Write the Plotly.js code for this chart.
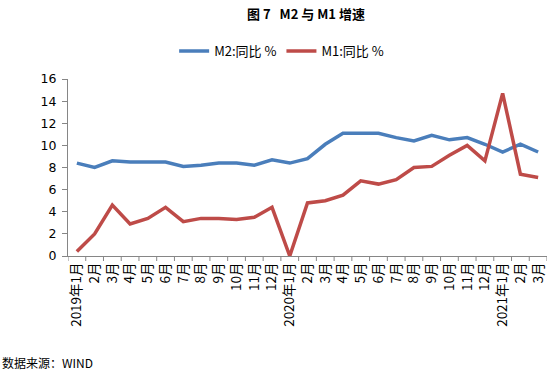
<!DOCTYPE html>
<html><head><meta charset="utf-8">
<script src="https://cdn.plot.ly/plotly-3.0.1.min.js"></script>
<style>body{margin:0;background:#fff}#c{width:549px;height:372px}</style>
</head><body><div id="c"></div>
<script>
const categories = ["2019年1月","2月","3月","4月","5月","6月","7月","8月","9月","10月","11月","12月",
  "2020年1月","2月","3月","4月","5月","6月","7月","8月","9月","10月","11月","12月",
  "2021年1月","2月","3月"];
const catKeys = categories.map((c,i)=>i);
const m2 = [8.4,8.0,8.6,8.5,8.5,8.5,8.1,8.2,8.4,8.4,8.2,8.7,8.4,8.8,10.1,11.1,11.1,11.1,10.7,10.4,10.9,10.5,10.7,10.1,9.4,10.1,9.4];
const m1 = [0.4,2.0,4.6,2.9,3.4,4.4,3.1,3.4,3.4,3.3,3.5,4.4,0.0,4.8,5.0,5.5,6.8,6.5,6.9,8.0,8.1,9.1,10.0,8.6,14.7,7.4,7.1];
const yTicks = [0,2,4,6,8,10,12,14,16];

const font = "DejaVu Sans, Noto Sans CJK SC, sans-serif";
const cjk = "Noto Sans CJK SC, sans-serif";
const traces = [
  {x: catKeys, y: m2, name: "M2:同比 %", mode: "lines", line: {color: "#4a7ebb", width: 3.5}},
  {x: catKeys, y: m1, name: "M1:同比 %", mode: "lines", line: {color: "#be4b48", width: 3.5}}
];
const layout = {
  width: 549, height: 372,
  margin: {l: 68, r: 2, t: 79, b: 116},
  paper_bgcolor: "#fff", plot_bgcolor: "#fff",
  showlegend: true,
  title: {text: "图 7   M2 与 M1 增速", font: {family: cjk, size: 13, color: "#000", weight: "bold"},
    x: 306/549, xanchor: "center", y: 1 - 14/372, yanchor: "middle", xref: "container", yref: "container"},
  legend: {orientation: "h", x: 0.513, xanchor: "center", y: 1 - 51/372, yanchor: "middle",
    xref: "container", yref: "container", font: {family: cjk, size: 13, color: "#000"},
    itemwidth: 30, tracegroupgap: 0},
  xaxis: {type: "linear", range: [-0.5, categories.length - 0.5],
    tickmode: "array", tickvals: catKeys, ticktext: categories, tickangle: -90,
    tickfont: {family: cjk, size: 13.5, color: "#000"},
    showgrid: false, zeroline: false, showline: true, linecolor: "#868686", linewidth: 1,
    ticks: "", fixedrange: true},
  yaxis: {range: [0, 16], tickmode: "array", tickvals: yTicks,
    tickfont: {family: font, size: 12.5, color: "#000"},
    showgrid: false, zeroline: false, showline: true, linecolor: "#868686", linewidth: 1,
    ticks: "outside", ticklen: 5, tickcolor: "#868686", ticklabelstandoff: 3},
  shapes: catKeys.concat([categories.length]).map(i => ({
    type: "line", xref: "x", yref: "paper", x0: i - 0.5, x1: i - 0.5, y0: 0, y1: -5/177,
    line: {color: "#868686", width: 1}
  })),
  annotations: [{text: "数据来源：WIND", xref: "paper", yref: "paper", showarrow: false,
    x: -68/479, xanchor: "left", y: -(362-256)/177, yanchor: "middle",
    font: {family: cjk, size: 12, color: "#000"}}]
};
Plotly.newPlot("c", traces, layout, {staticPlot: true});
</script></body></html>
